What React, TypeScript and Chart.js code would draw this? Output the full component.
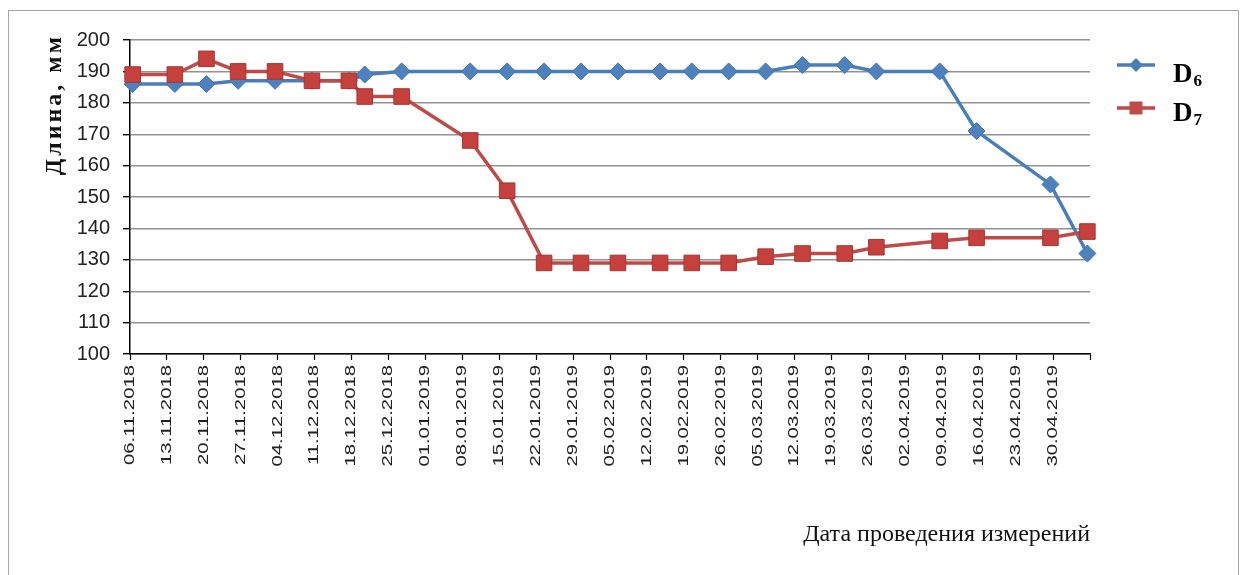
import React, { useEffect, useRef } from "react";
import { Chart, registerables } from "chart.js";

Chart.register(...registerables);

// ---- data ----
const AXIS_START = "06.11.2018";
const MEASURE_DATES = [
  "06.11.2018", "14.11.2018", "20.11.2018", "26.11.2018", "03.12.2018",
  "10.12.2018", "17.12.2018", "20.12.2018", "27.12.2018", "09.01.2019",
  "16.01.2019", "23.01.2019", "30.01.2019", "06.02.2019", "14.02.2019",
  "20.02.2019", "27.02.2019", "06.03.2019", "13.03.2019", "21.03.2019",
  "27.03.2019", "08.04.2019", "15.04.2019", "29.04.2019", "06.05.2019",
];
const D6_VALUES = [
  186, 186, 186, 187, 187, 187, 187, 189, 190, 190, 190, 190, 190,
  190, 190, 190, 190, 190, 192, 192, 190, 190, 171, 154, 132,
];
const D7_VALUES = [
  189, 189, 194, 190, 190, 187, 187, 182, 182, 168, 152, 129, 129,
  129, 129, 129, 129, 131, 132, 132, 134, 136, 137, 137, 139,
];
const TICK_LABELS = [
  "06.11.2018", "13.11.2018", "20.11.2018", "27.11.2018", "04.12.2018",
  "11.12.2018", "18.12.2018", "25.12.2018", "01.01.2019", "08.01.2019",
  "15.01.2019", "22.01.2019", "29.01.2019", "05.02.2019", "12.02.2019",
  "19.02.2019", "26.02.2019", "05.03.2019", "12.03.2019", "19.03.2019",
  "26.03.2019", "02.04.2019", "09.04.2019", "16.04.2019", "23.04.2019",
  "30.04.2019",
];
const TICK_COUNT = 27; // 26 labelled weekly ticks + closing tick
const WEEK = 7;
const Y_MIN = 100;
const Y_MAX = 200;
const Y_STEP = 10;
const SERIES_NAMES = ["D6", "D7"];
const Y_TITLE = "Длина, мм";
const X_TITLE = "Дата проведения измерений";

const BLUE = "#4a7ebb";
const RED = "#be4b48";
const LABEL_STRETCH = 1.45;

function dayIndex(s: string): number {
  const [d, m, y] = s.split(".").map(Number);
  const [d0, m0, y0] = AXIS_START.split(".").map(Number);
  return Math.round((Date.UTC(y, m - 1, d) - Date.UTC(y0, m0 - 1, d0)) / 86400000);
}

const decorPlugin = {
  id: "decor",
  afterDatasetsDraw(chart: any) {
    const ctx = chart.ctx;
    const xs = chart.scales.x;
    const y0 = xs.top + 6 + 5;
    ctx.save();
    ctx.translate(0, y0);
    ctx.scale(1, LABEL_STRETCH);
    ctx.translate(0, -y0);
  },
  afterDraw(chart: any) {
    const ctx = chart.ctx;
    ctx.restore();
    const { right, top } = chart.chartArea;

    // y axis title
    ctx.save();
    ctx.translate(55, top - 6);
    ctx.rotate(-Math.PI / 2);
    ctx.textAlign = "right";
    ctx.textBaseline = "middle";
    ctx.fillStyle = "#111";
    ctx.font = "bold 24px 'Liberation Serif'";
    try {
      (ctx as any).letterSpacing = "3px";
    } catch (e) {}
    ctx.fillText(Y_TITLE, 0, 0);
    try {
      (ctx as any).letterSpacing = "0px";
    } catch (e) {}
    ctx.restore();

    // legend
    const items = [
      { name: SERIES_NAMES[0], color: BLUE, marker: "diamond", ly: top + 25, by: top + 42 },
      { name: SERIES_NAMES[1], color: RED, marker: "square", ly: top + 68, by: top + 81 },
    ];
    ctx.save();
    items.forEach((it) => {
      const x1 = right + 27;
      const x2 = right + 65;
      const cx = (x1 + x2) / 2;
      ctx.strokeStyle = it.color;
      ctx.lineWidth = 3.5;
      ctx.beginPath();
      ctx.moveTo(x1, it.ly);
      ctx.lineTo(x2, it.ly);
      ctx.stroke();
      ctx.fillStyle = it.color;
      ctx.beginPath();
      if (it.marker === "diamond") {
        const r = 7;
        ctx.moveTo(cx - r, it.ly);
        ctx.lineTo(cx, it.ly - r);
        ctx.lineTo(cx + r, it.ly);
        ctx.lineTo(cx, it.ly + r);
        ctx.closePath();
      } else {
        const s = 6.5;
        ctx.rect(cx - s, it.ly - s, 2 * s, 2 * s);
      }
      ctx.fill();
      ctx.fillStyle = "#000";
      ctx.textBaseline = "alphabetic";
      ctx.textAlign = "left";
      ctx.font = "bold 27px 'Liberation Serif'";
      const tx = right + 83;
      ctx.fillText(it.name[0], tx, it.by);
      const w = ctx.measureText(it.name[0]).width;
      ctx.font = "bold 17px 'Liberation Serif'";
      ctx.fillText(it.name.slice(1), tx + w + 1, it.by + 4);
    });
    ctx.restore();
  },
};

export default function App() {
  const canvasRef = useRef<HTMLCanvasElement | null>(null);

  useEffect(() => {
    const canvas = canvasRef.current;
    if (!canvas) return;
    const xs = MEASURE_DATES.map(dayIndex);
    const chart = new Chart(canvas, {
      type: "line",
      data: {
        datasets: [
          {
            label: SERIES_NAMES[0],
            data: xs.map((x, i) => ({ x, y: D6_VALUES[i] })),
            borderColor: BLUE,
            backgroundColor: BLUE,
            borderWidth: 3.5,
            pointStyle: "rectRot",
            pointRadius: 8.5,
            pointBorderWidth: 1,
            pointBackgroundColor: "#4f81bd",
            pointBorderColor: "#3f74b5",
            tension: 0,
            clip: false,
            order: 1,
          },
          {
            label: SERIES_NAMES[1],
            data: xs.map((x, i) => ({ x, y: D7_VALUES[i] })),
            borderColor: RED,
            backgroundColor: RED,
            borderWidth: 3.5,
            pointStyle: "rect",
            pointRadius: 11,
            pointBorderWidth: 1,
            pointBackgroundColor: "#c4413d",
            pointBorderColor: "#a8332f",
            tension: 0,
            clip: false,
            order: 0,
          },
        ],
      },
      options: {
        responsive: false,
        devicePixelRatio: 1,
        animation: false,
        events: [],
        layout: { padding: { left: 0, top: 40, right: 153, bottom: 0 } },
        plugins: {
          legend: { display: false },
          tooltip: { enabled: false },
        },
        scales: {
          x: {
            type: "linear",
            min: -0.5,
            max: (TICK_COUNT - 1) * WEEK - 0.5,
            afterBuildTicks: (s: any) => {
              s.ticks = Array.from({ length: TICK_COUNT }, (_, k) => ({ value: -0.5 + WEEK * k }));
            },
            afterFit: (s: any) => {
              s.height = 221;
            },
            grid: {
              drawOnChartArea: false,
              drawTicks: true,
              tickLength: 6,
              tickColor: "#000",
              tickWidth: 1.2,
            },
            border: { color: "#000", width: 1.5 },
            ticks: {
              autoSkip: false,
              minRotation: 90,
              maxRotation: 90,
              padding: 5,
              z: 1,
              color: "#222",
              font: { family: "'Liberation Sans'", size: 14 },
              callback: (_v: any, i: number) => TICK_LABELS[i] ?? "",
            },
            title: {
              display: true,
              text: X_TITLE,
              align: "end",
              color: "#111",
              font: { family: "'Liberation Serif'", size: 24 },
              padding: { top: 0, bottom: 26 },
            },
          },
          y: {
            min: Y_MIN,
            max: Y_MAX,
            afterFit: (s: any) => {
              s.width = 130;
            },
            ticks: {
              stepSize: Y_STEP,
              padding: 13,
              color: "#222",
              font: { family: "'Liberation Sans'", size: 20 },
            },
            grid: {
              color: "#929292",
              lineWidth: 1.4,
              tickColor: "#000",
              tickLength: 7,
              drawTicks: true,
            },
            border: { color: "#000", width: 1.5 },
            title: { display: false },
          },
        },
      },
      plugins: [decorPlugin],
    } as any);
    return () => chart.destroy();
  }, []);

  return (
    <div
      style={{
        position: "fixed",
        left: 0,
        top: 0,
        width: 1243,
        height: 575,
        overflow: "hidden",
        background: "#fff",
      }}
    >
      <div
        style={{
          position: "absolute",
          left: 8,
          top: 10,
          width: 1231,
          height: 620,
          border: "1px solid #a6a6a6",
          boxSizing: "border-box",
        }}
      />
      <canvas
        ref={canvasRef}
        width={1243}
        height={575}
        style={{ position: "absolute", left: 0, top: 0, width: 1243, height: 575 }}
      />
    </div>
  );
}
